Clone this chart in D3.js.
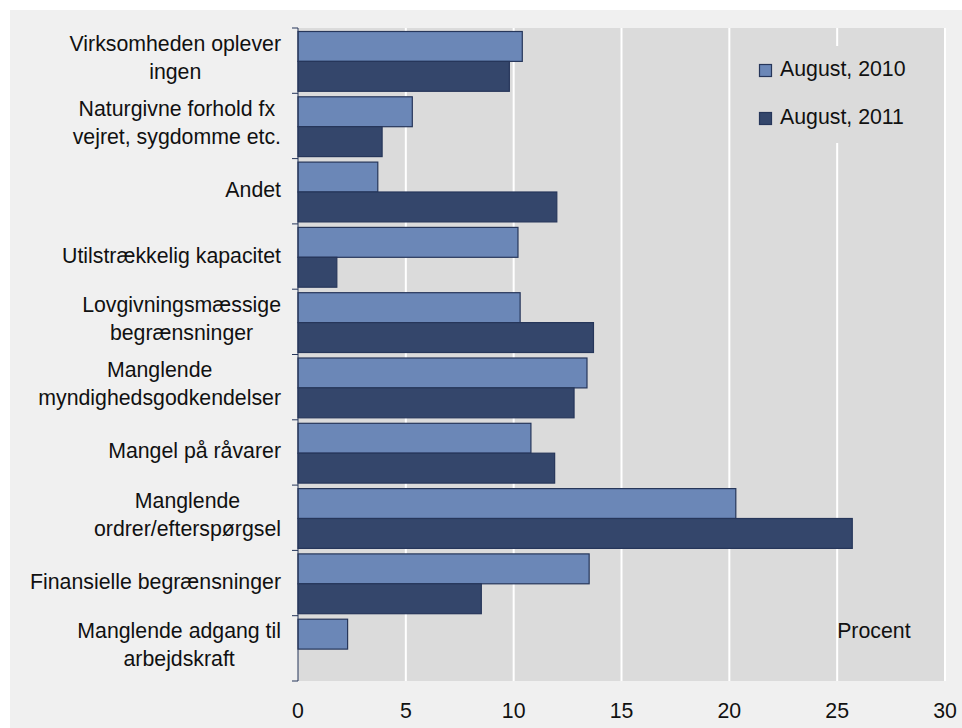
<!DOCTYPE html>
<html>
<head>
<meta charset="utf-8">
<script src="https://cdn.jsdelivr.net/npm/d3@7"></script>
<style>
  body { margin: 0; background: #ffffff; }
  text { font-family: "Liberation Sans", Arial, sans-serif; fill: #111; }
</style>
</head>
<body>
<svg id="chart"></svg>
<script>
// categories, top to bottom (\n = line break in the label)
var categories = [
  "Virksomheden oplever\ningen",
  "Naturgivne forhold fx\nvejret, sygdomme etc.",
  "Andet",
  "Utilstrækkelig kapacitet",
  "Lovgivningsmæssige\nbegrænsninger",
  "Manglende\nmyndighedsgodkendelser",
  "Mangel på råvarer",
  "Manglende\nordrer/efterspørgsel",
  "Finansielle begrænsninger",
  "Manglende adgang til\narbejdskraft"
];
var seriesNames = ["August, 2010", "August, 2011"];
var aug2010 = [10.4, 5.3, 3.7, 10.2, 10.3, 13.4, 10.8, 20.3, 13.5, 2.3];
var aug2011 = [9.8, 3.9, 12.0, 1.8, 13.7, 12.8, 11.9, 25.7, 8.5, 0];
var xTicks = [0, 5, 10, 15, 20, 25, 30];
var unitLabel = "Procent";

var width = 962, height = 728;
var colors = ["#6b87b7", "#34466b"];
var fontSize = 21.3;

var svg = d3.select("#chart")
    .attr("width", width)
    .attr("height", height);

// outer panel
svg.append("rect")
    .attr("x", 10).attr("y", 10)
    .attr("width", width - 10).attr("height", height - 10)
    .attr("fill", "#f0f0f0");

// scales
var x = d3.scaleLinear().domain([0, 30]).range([298, 945]);
var y = d3.scaleBand().domain(d3.range(categories.length)).range([28, 681]);
var ySub = d3.scaleBand().domain([0, 1]).range([3.5, y.bandwidth() - 2]);

// plot background
svg.append("rect")
    .attr("x", x(0)).attr("y", y.range()[0])
    .attr("width", x(30) - x(0)).attr("height", y.range()[1] - y.range()[0])
    .attr("fill", "#dbdbdb");

// gridlines
svg.append("g")
    .selectAll("line")
    .data(xTicks.slice(1))
    .enter().append("line")
    .attr("x1", function(d) { return x(d); })
    .attr("x2", function(d) { return x(d); })
    .attr("y1", y.range()[0])
    .attr("y2", y.range()[1])
    .attr("stroke", "#ffffff")
    .attr("stroke-width", 2);

// bars
var rows = categories.map(function(c, i) { return [aug2010[i], aug2011[i]]; });
var groups = svg.append("g")
    .selectAll("g")
    .data(rows)
    .enter().append("g")
    .attr("transform", function(d, i) { return "translate(0," + y(i) + ")"; });

groups.selectAll("rect")
    .data(function(d) { return d; })
    .enter().append("rect")
    .filter(function(d) { return d > 0; })
    .attr("x", x(0))
    .attr("y", function(d, j) { return ySub(j); })
    .attr("width", function(d) { return x(d) - x(0); })
    .attr("height", ySub.bandwidth())
    .attr("fill", function(d, j) { return colors[j]; })
    .attr("stroke", "#26365a")
    .attr("stroke-width", 1.2);

// legend box hides the gridlines behind it
var legend = svg.append("g");
legend.append("rect")
    .attr("x", 731).attr("y", 46)
    .attr("width", 213).attr("height", 97)
    .attr("fill", "#dbdbdb");

var legendItems = legend.selectAll("g.item")
    .data(seriesNames)
    .enter().append("g")
    .attr("class", "item")
    .attr("transform", function(d, i) { return "translate(759," + (64 + i * 48) + ")"; });

legendItems.append("rect")
    .attr("x", 0.5).attr("y", 0.5)
    .attr("width", 12).attr("height", 12)
    .attr("fill", function(d, i) { return colors[i]; })
    .attr("stroke", "#26365a")
    .attr("stroke-width", 1.2);

legendItems.append("text")
    .attr("x", 21)
    .attr("y", 12)
    .style("font-size", fontSize + "px")
    .text(function(d) { return d; });

// y axis: line and outward ticks on category boundaries
var yAxis = svg.append("g");
yAxis.append("line")
    .attr("x1", x(0)).attr("x2", x(0))
    .attr("y1", y.range()[0]).attr("y2", y.range()[1])
    .attr("stroke", "#26365a").attr("stroke-width", 1);
yAxis.selectAll("line.tick")
    .data(d3.range(categories.length + 1))
    .enter().append("line")
    .attr("class", "tick")
    .attr("x1", x(0) - 6).attr("x2", x(0))
    .attr("y1", function(d) { return y.range()[0] + d * y.step(); })
    .attr("y2", function(d) { return y.range()[0] + d * y.step(); })
    .attr("stroke", "#26365a").attr("stroke-width", 1);

// category labels: centered text block, right aligned to the axis
var labelRight = 281;
var labels = svg.append("g")
    .selectAll("g")
    .data(categories)
    .enter().append("g");

labels.each(function(c, i) {
    var g = d3.select(this);
    var lines = c.split("\n");
    var cy = y(i) + y.bandwidth() / 2;
    var tspans = lines.map(function(line, k) {
        var base = lines.length === 1 ? cy + 6 : cy - 10 + k * 28;
        return g.append("text")
            .attr("y", base)
            .style("font-size", fontSize + "px")
            .attr("text-anchor", "middle")
            .text(line);
    });
    var maxW = d3.max(tspans, function(t) { return t.node().getComputedTextLength(); });
    tspans.forEach(function(t) { t.attr("x", labelRight - maxW / 2); });
});

// x tick labels
svg.append("g")
    .selectAll("text")
    .data(xTicks)
    .enter().append("text")
    .attr("x", function(d) { return x(d); })
    .attr("y", 718)
    .attr("text-anchor", "middle")
    .style("font-size", fontSize + "px")
    .text(function(d) { return d; });

// unit label
svg.append("text")
    .attr("x", x(25))
    .attr("y", 638)
    .style("font-size", fontSize + "px")
    .text(unitLabel);
</script>
</body>
</html>
